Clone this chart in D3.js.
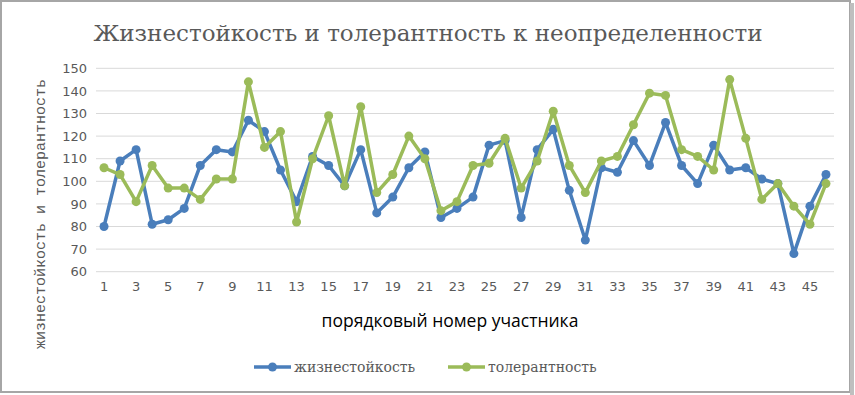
<!DOCTYPE html>
<html>
<head>
<meta charset="utf-8">
<script src="https://cdn.jsdelivr.net/npm/d3@7"></script>
<style>
  body { margin: 0; background: #fff; }
</style>
</head>
<body>
<script>
const participants = d3.range(1, 47)
const hardiness = [80, 109, 114, 81, 83, 88, 107, 114, 113, 127, 122, 105, 91, 111, 107, 98, 114, 86, 93, 106, 113, 84, 88, 93, 116, 118, 84, 114, 123, 96, 74, 106, 104, 118, 107, 126, 107, 99, 116, 105, 106, 101, 99, 68, 89, 103]
const tolerance = [106, 103, 91, 107, 97, 97, 92, 101, 101, 144, 115, 122, 82, 110, 129, 98, 133, 95, 103, 120, 110, 87, 91, 107, 108, 119, 97, 109, 131, 107, 95, 109, 111, 125, 139, 138, 114, 111, 105, 145, 119, 92, 99, 89, 81, 99]
const yTicks = [60, 70, 80, 90, 100, 110, 120, 130, 140, 150]
const seriesNames = ['жизнестойкость', 'толерантность']
const seriesColors = ['#4A7EBB', '#9BBB59']

const svg = d3.select('body').append('svg')
  .attr('width', 855)
  .attr('height', 395)

// frame
svg.append('rect')
  .attr('x', 1).attr('y', 1)
  .attr('width', 849).attr('height', 391)
  .attr('fill', '#fff')
  .attr('stroke', '#a6a6a6')
  .attr('stroke-width', 2)
svg.append('line')
  .attr('x1', 852).attr('x2', 852).attr('y1', 3).attr('y2', 395)
  .attr('stroke', '#bfbfbf').attr('stroke-width', 4)

const plot = { left: 96, right: 834, top: 68.3, bottom: 271.7 }

const x = d3.scaleBand().domain(participants).range([plot.left, plot.right])
const y = d3.scaleLinear().domain([60, 150]).range([plot.bottom, plot.top])
const cx = (d) => x(d) + x.bandwidth() / 2

// gridlines
svg.append('g')
  .selectAll('line')
  .data(yTicks)
  .enter()
  .append('line')
  .attr('x1', plot.left)
  .attr('x2', plot.right)
  .attr('y1', (d) => y(d))
  .attr('y2', (d) => y(d))
  .attr('stroke', '#d9d9d9')
  .attr('stroke-width', 1)

// y axis
const yAxis = svg.append('g')
  .attr('transform', `translate(${plot.left},0)`)
  .call(d3.axisLeft(y).tickValues(yTicks).tickSize(0).tickPadding(9))
yAxis.select('.domain').remove()
yAxis.selectAll('text')
  .attr('fill', '#595959')
  .style('font-family', '"DejaVu Sans", sans-serif')
  .style('font-size', '13px')

// x axis
const xAxis = svg.append('g')
  .attr('transform', `translate(0,${plot.bottom})`)
  .call(d3.axisBottom(x).tickValues(participants.filter((d) => d % 2 === 1)).tickSize(0).tickPadding(10))
xAxis.select('.domain').remove()
xAxis.selectAll('text')
  .attr('fill', '#595959')
  .style('font-family', '"DejaVu Sans", sans-serif')
  .style('font-size', '13px')

// titles
svg.append('text')
  .attr('x', 428)
  .attr('y', 41)
  .attr('text-anchor', 'middle')
  .attr('fill', '#595959')
  .style('font-family', '"DejaVu Serif", serif')
  .style('font-size', '23px')
  .text('Жизнестойкость и толерантность к неопределенности')

svg.append('text')
  .attr('x', 450)
  .attr('y', 327)
  .attr('text-anchor', 'middle')
  .attr('fill', '#000')
  .style('font-family', '"Open Sans", sans-serif')
  .style('font-size', '17.5px')
  .text('порядковый номер участника')

svg.append('text')
  .attr('transform', 'translate(45,214) rotate(-90)')
  .attr('text-anchor', 'middle')
  .attr('fill', '#595959')
  .style('font-family', '"Liberation Mono", monospace')
  .style('font-size', '15px')
  .text('жизнестойкость и толерантность')

// series
const series = [hardiness, tolerance]
series.forEach((values, i) => {
  const pts = participants.map((p, j) => ({ p: p, v: values[j] }))
  svg.append('path')
    .datum(pts)
    .attr('fill', 'none')
    .attr('stroke', seriesColors[i])
    .attr('stroke-width', 3.5)
    .attr('stroke-linejoin', 'round')
    .attr('d', d3.line().x((d) => cx(d.p)).y((d) => y(d.v)))
  svg.append('g')
    .selectAll('circle')
    .data(pts)
    .enter()
    .append('circle')
    .attr('cx', (d) => cx(d.p))
    .attr('cy', (d) => y(d.v))
    .attr('r', 4.5)
    .attr('fill', seriesColors[i])
})

// legend
const legendX = [254, 448]
seriesNames.forEach((name, i) => {
  const g = svg.append('g').attr('transform', `translate(${legendX[i]},367)`)
  g.append('line')
    .attr('x1', 0).attr('x2', 37)
    .attr('stroke', seriesColors[i]).attr('stroke-width', 3.5)
  g.append('circle')
    .attr('cx', 18.5).attr('r', 4.5)
    .attr('fill', seriesColors[i])
  g.append('text')
    .attr('x', 40)
    .attr('y', 5)
    .attr('fill', '#595959')
    .style('font-family', '"DejaVu Serif", serif')
    .style('font-size', '14px')
    .text(name)
})
</script>
</body>
</html>
